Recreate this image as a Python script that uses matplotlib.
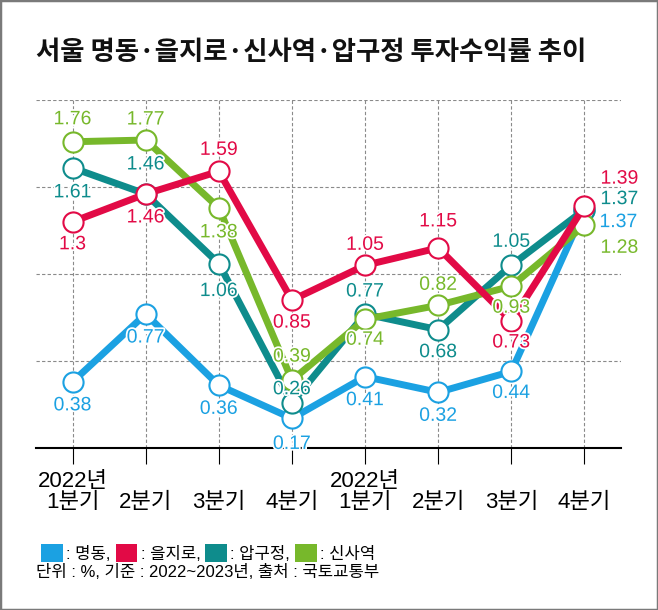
import matplotlib
matplotlib.use("Agg")
import matplotlib.pyplot as plt
import matplotlib.patheffects as pe
from matplotlib import font_manager
from matplotlib.patches import Patch, Rectangle

# data
quarters = ["2022년\n1분기", " \n2분기", " \n3분기", " \n4분기",
            "2022년\n1분기", " \n2분기", " \n3분기", " \n4분기"]
myeongdong = [0.38, 0.77, 0.36, 0.17, 0.41, 0.32, 0.44, 1.37]
euljiro = [1.30, 1.46, 1.59, 0.85, 1.05, 1.15, 0.73, 1.39]
apgujeong = [1.61, 1.46, 1.06, 0.26, 0.77, 0.68, 1.05, 1.37]
sinsa = [1.76, 1.77, 1.38, 0.39, 0.74, 0.82, 0.93, 1.28]
value_text = {
    "myeongdong": ["0.38", "0.77", "0.36", "0.17", "0.41", "0.32", "0.44", "1.37"],
    "euljiro": ["1.3", "1.46", "1.59", "0.85", "1.05", "1.15", "0.73", "1.39"],
    "apgujeong": ["1.61", "1.46", "1.06", "0.26", "0.77", "0.68", "1.05", "1.37"],
    "sinsa": ["1.76", "1.77", "1.38", "0.39", "0.74", "0.82", "0.93", "1.28"],
}

# label offsets in pixels (dx, dy)
offs = {
    "myeongdong": [(0, -24), (0, -24), (0, -24), (0, -26), (0, -24), (0, -24), (0, -22), (34, -13)],
    "euljiro": [(0, -23), (0, -24), (0, 21), (0, -23), (0, 20), (0, 26), (0, -22), (35, 27)],
    "apgujeong": [(0, -25), (0, 29), (0, -28), (0, 13), (0, 22), (0, -23), (0, 23), (35, 10)],
    "sinsa": [(0, 22), (0, 20), (0, -25), (0, 23), (0, -21), (0, 20), (0, -22), (35, -23)],
}

c_blue = "#1ba1e2"
c_red = "#e20a46"
c_teal = "#0e8c8c"
c_green = "#77b82b"

names = {f.name for f in font_manager.fontManager.ttflist}
num_font = "Liberation Sans Narrow" if "Liberation Sans Narrow" in names else "Liberation Sans"
kr = "Noto Sans CJK KR"
plt.rcParams["font.family"] = [kr, "DejaVu Sans"]

fig = plt.figure(figsize=(6.58, 6.10), dpi=100)
ax = fig.add_axes([36 / 658, 162 / 610, 585 / 658, 348 / 610])

x = list(range(len(quarters)))
series = [
    ("myeongdong", myeongdong, c_blue),
    ("apgujeong", apgujeong, c_teal),
    ("sinsa", sinsa, c_green),
    ("euljiro", euljiro, c_red),
]
for i, (key, vals, col) in enumerate(series):
    ax.plot(x, vals, "-o", color=col, lw=5, ms=14.5, mfc="white", mec=col,
            mew=1.5, zorder=3 + i, clip_on=False)

for key, vals, col in series:
    for xi, v, t, (dx, dy) in zip(x, vals, value_text[key], offs[key]):
        ax.annotate(t, (xi, v), xytext=(dx, dy), textcoords="offset pixels",
                    ha="center", va="center", color=col, fontsize=14,
                    family=[num_font, kr], zorder=10,
                    path_effects=[pe.withStroke(linewidth=2.5, foreground="white")])

ax.set_xlim(-0.5, 7.5)
ax.set_ylim(0, 2.0)
ax.set_yticks([0.5, 1.0, 1.5, 2.0])
ax.set_yticklabels([])
ax.tick_params(axis="y", length=0)
ax.set_xticks(x)
ax.set_xticklabels(quarters, fontsize=16, family=[num_font, kr], linespacing=1.0)
ax.tick_params(axis="x", length=11.5, width=0.8, pad=5)
ax.grid(True, color="#8a8a8a", lw=0.8, linestyle=(0, (3, 2)))
ax.set_axisbelow(True)
for s in ["top", "left", "right"]:
    ax.spines[s].set_visible(False)
ax.spines["bottom"].set_linewidth(1.5)
ax.spines["bottom"].set_zorder(2)

fig.text(36 / 658, 1 - 53 / 610, "서울 명동·을지로·신사역·압구정 투자수익률 추이",
         fontsize=19, weight="bold", ha="left", va="center", color="#111111")

handles = [Patch(facecolor=c) for c in [c_blue, c_red, c_teal, c_green]]
labels = [": 명동,", ": 을지로,", ": 압구정,", ": 신사역"]
fig.legend(handles, labels, ncol=4, loc="center left",
           bbox_to_anchor=(33 / 658, 1 - 553 / 610), frameon=False,
           handlelength=1.3, handleheight=1.3, handletextpad=0.2,
           columnspacing=0.3, borderpad=0, prop={"family": [num_font, kr], "size": 12})
fig.text(36 / 658, 1 - 572 / 610, "단위 : %, 기준 : 2022~2023년, 출처 : 국토교통부",
         fontsize=12, ha="left", va="center", family=[num_font, kr])

fig.patches.append(Rectangle((0, 0), 1, 1, transform=fig.transFigure, fill=False,
                             edgecolor="#7a7a7a", lw=2.5))

fig.savefig("out.png", dpi=100)
